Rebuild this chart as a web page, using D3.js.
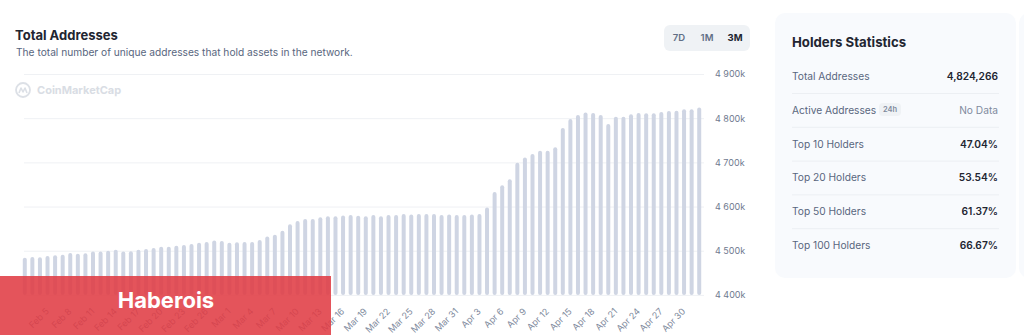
<!DOCTYPE html>
<html>
<head>
<meta charset="utf-8">
<script src="https://cdn.jsdelivr.net/npm/d3@7"></script>
<style>
  body { margin: 0; background: #fff; font-family: Inter, "Noto Sans", sans-serif; }
  svg { display: block; }
</style>
</head>
<body>
<div id="chart"></div>
<script>
// daily total addresses, in thousands (Feb 2 – May 2, 2023)
var startDay = new Date(2023, 1, 2);
var endDay = new Date(2023, 4, 3);
var days = d3.timeDay.range(startDay, endDay);

var totalAddresses = [
  4484, 4486, 4485, 4488, 4490, 4491, 4495, 4493, 4494, 4498,
  4498, 4500, 4502, 4498, 4499, 4502, 4504, 4506, 4509, 4509,
  4511, 4513, 4515, 4518, 4520, 4523, 4522, 4518, 4519, 4520,
  4520, 4524, 4532, 4536, 4545, 4560, 4567, 4572, 4572, 4576,
  4578, 4578, 4580, 4581, 4579,
  4578, 4581, 4578, 4581, 4581, 4583, 4582, 4583, 4583, 4583,
  4581, 4582, 4581, 4581, 4582, 4583, 4598, 4633, 4648, 4662,
  4699, 4711, 4719, 4726, 4726, 4734, 4778, 4798, 4807, 4813,
  4812, 4807, 4787, 4803, 4803, 4809, 4812, 4811, 4811, 4814,
  4816, 4817, 4820, 4820, 4824
];

var yTicks = [4400, 4500, 4600, 4700, 4800, 4900];
var periods = ["7D", "1M", "3M"];

var statLabels = ["Total Addresses", "Active Addresses", "Top 10 Holders", "Top 20 Holders", "Top 50 Holders", "Top 100 Holders"];
var statValues = ["4,824,266", "No Data", "47.04%", "53.54%", "61.37%", "66.67%"];

var W = 1024, H = 335;
var svg = d3.select("#chart").append("svg")
  .attr("width", W)
  .attr("height", H);

// header
svg.append("text")
  .attr("x", 15).attr("y", 40)
  .style("font-size", "13px").style("font-weight", 700)
  .style("fill", "#222531")
  .text("Total Addresses");
svg.append("text")
  .attr("x", 16).attr("y", 56)
  .style("font-size", "10.2px")
  .style("fill", "#58667e")
  .text("The total number of unique addresses that hold assets in the network.");

// period switch
svg.append("rect")
  .attr("x", 664).attr("y", 25).attr("width", 86).attr("height", 26)
  .attr("rx", 6).style("fill", "#eff2f5");
var px = d3.scalePoint().domain(periods).range([679, 735]);
svg.selectAll(".period")
  .data(periods)
  .enter().append("text")
  .attr("x", function (d) { return px(d); })
  .attr("y", 38)
  .attr("dy", "0.35em")
  .style("text-anchor", "middle")
  .style("font-size", "9.5px")
  .style("font-weight", function (d) { return d == "3M" ? 700 : 600; })
  .style("fill", function (d) { return d == "3M" ? "#222531" : "#616e85"; })
  .text(function (d) { return d; });

// scales
var x = d3.scaleBand().domain(days).range([21, 703]).padding(0);
var y = d3.scaleLinear().domain([4400, 4900]).range([294.9, 74]);
var fmt = d3.formatLocale({ decimal: ".", thousands: " ", grouping: [3], currency: ["", ""] }).format(",");

// gridlines
svg.append("g")
  .attr("class", "grid")
  .attr("transform", "translate(24,0)")
  .call(d3.axisLeft(y).tickValues(yTicks).tickSize(-680).tickFormat(""))
  .call(function (g) { g.select(".domain").remove(); })
  .call(function (g) { g.selectAll("line").style("stroke", "#eff1f4"); });

// y labels
svg.append("g")
  .attr("class", "y axis")
  .attr("transform", "translate(715,0)")
  .call(d3.axisRight(y).tickValues(yTicks).tickSize(0).tickPadding(0)
    .tickFormat(function (d) { return fmt(d) + "k"; }))
  .call(function (g) { g.select(".domain").remove(); })
  .call(function (g) {
    g.selectAll("text")
      .style("font-family", "Inter, sans-serif")
      .style("font-size", "9px")
      .style("fill", "#6f7a8f");
  });

// watermark
var logo = svg.append("g").attr("transform", "translate(23,90)").style("opacity", 0.9);
logo.append("circle").attr("r", 7).style("fill", "none").style("stroke", "#d9dde4").style("stroke-width", 1.8);
logo.append("path")
  .attr("d", "M-4,3 L-2,-2 L0,2 L2,-2 L4,3")
  .style("fill", "none").style("stroke", "#d9dde4").style("stroke-width", 1.6)
  .style("stroke-linejoin", "round");
svg.append("text")
  .attr("x", 37).attr("y", 94)
  .style("font-size", "11px").style("font-weight", 700)
  .style("fill", "#d9dde4")
  .text("CoinMarketCap");

// bars
var barW = 4;
svg.append("g")
  .selectAll("rect")
  .data(totalAddresses)
  .enter().append("rect")
  .attr("x", function (d, i) { return x(days[i]) + x.bandwidth() / 2 - barW / 2; })
  .attr("y", function (d) { return y(d); })
  .attr("width", barW)
  .attr("height", function (d) { return y(4400) - y(d); })
  .attr("rx", 2)
  .style("fill", "#cfd5e3");

// x labels every third day starting Feb 5
var tickDays = days.filter(function (d, i) { return i >= 3 && (i - 3) % 3 == 0 && i <= 87; });
var dayFmt = d3.timeFormat("%b %-d");
svg.append("g")
  .selectAll("text")
  .data(tickDays)
  .enter().append("text")
  .attr("transform", function (d) {
    return "translate(" + (x(d) + x.bandwidth() / 2 + 2) + ",312) rotate(-45)";
  })
  .style("text-anchor", "end")
  .style("font-size", "9px")
  .style("fill", "#808a9d")
  .text(function (d) { return dayFmt(d); });

// side card
svg.append("rect")
  .attr("x", 1019).attr("y", 13).attr("width", 20).attr("height", 265)
  .attr("rx", 10).style("fill", "#f8fafd");
svg.append("rect")
  .attr("x", 775).attr("y", 13).attr("width", 241).attr("height", 265)
  .attr("rx", 10).style("fill", "#f8fafd");
svg.append("text")
  .attr("x", 792).attr("y", 46.5)
  .style("font-size", "13.2px").style("font-weight", 700)
  .style("fill", "#222531")
  .text("Holders Statistics");

var rowY = d3.scaleLinear().domain([0, 5]).range([80, 249]);
var rows = svg.append("g").selectAll("g")
  .data(statLabels)
  .enter().append("g")
  .attr("transform", function (d, i) { return "translate(0," + rowY(i) + ")"; });
rows.append("text")
  .attr("x", 792)
  .style("font-size", "10.2px")
  .style("fill", "#58667e")
  .text(function (d) { return d; });
rows.append("text")
  .attr("x", 998)
  .style("text-anchor", "end")
  .style("font-size", "10.2px")
  .style("font-weight", function (d, i) { return i == 1 ? 400 : 600; })
  .style("fill", function (d, i) { return i == 1 ? "#808a9d" : "#222531"; })
  .text(function (d, i) { return statValues[i]; });
rows.filter(function (d, i) { return i < 5; })
  .append("line")
  .attr("x1", 792).attr("x2", 999)
  .attr("y1", 13.5).attr("y2", 13.5)
  .style("stroke", "#eceff3");

// 24h badge
svg.append("rect")
  .attr("x", 879).attr("y", 103).attr("width", 22).attr("height", 13)
  .attr("rx", 4).style("fill", "#eff2f5");
svg.append("text")
  .attr("x", 890).attr("y", 109.5).attr("dy", "0.35em")
  .style("text-anchor", "middle")
  .style("font-size", "7.5px").style("font-weight", 600)
  .style("fill", "#808a9d")
  .text("24h");

// banner overlay
svg.append("rect")
  .attr("x", 0).attr("y", 276).attr("width", 331).attr("height", 59)
  .style("fill", "#e03c44").style("opacity", 0.88);
svg.append("text")
  .attr("x", 166).attr("y", 308)
  .style("text-anchor", "middle")
  .style("font-size", "22px").style("font-weight", 700)
  .style("fill", "#fff")
  .text("Haberois");
</script>
</body>
</html>
